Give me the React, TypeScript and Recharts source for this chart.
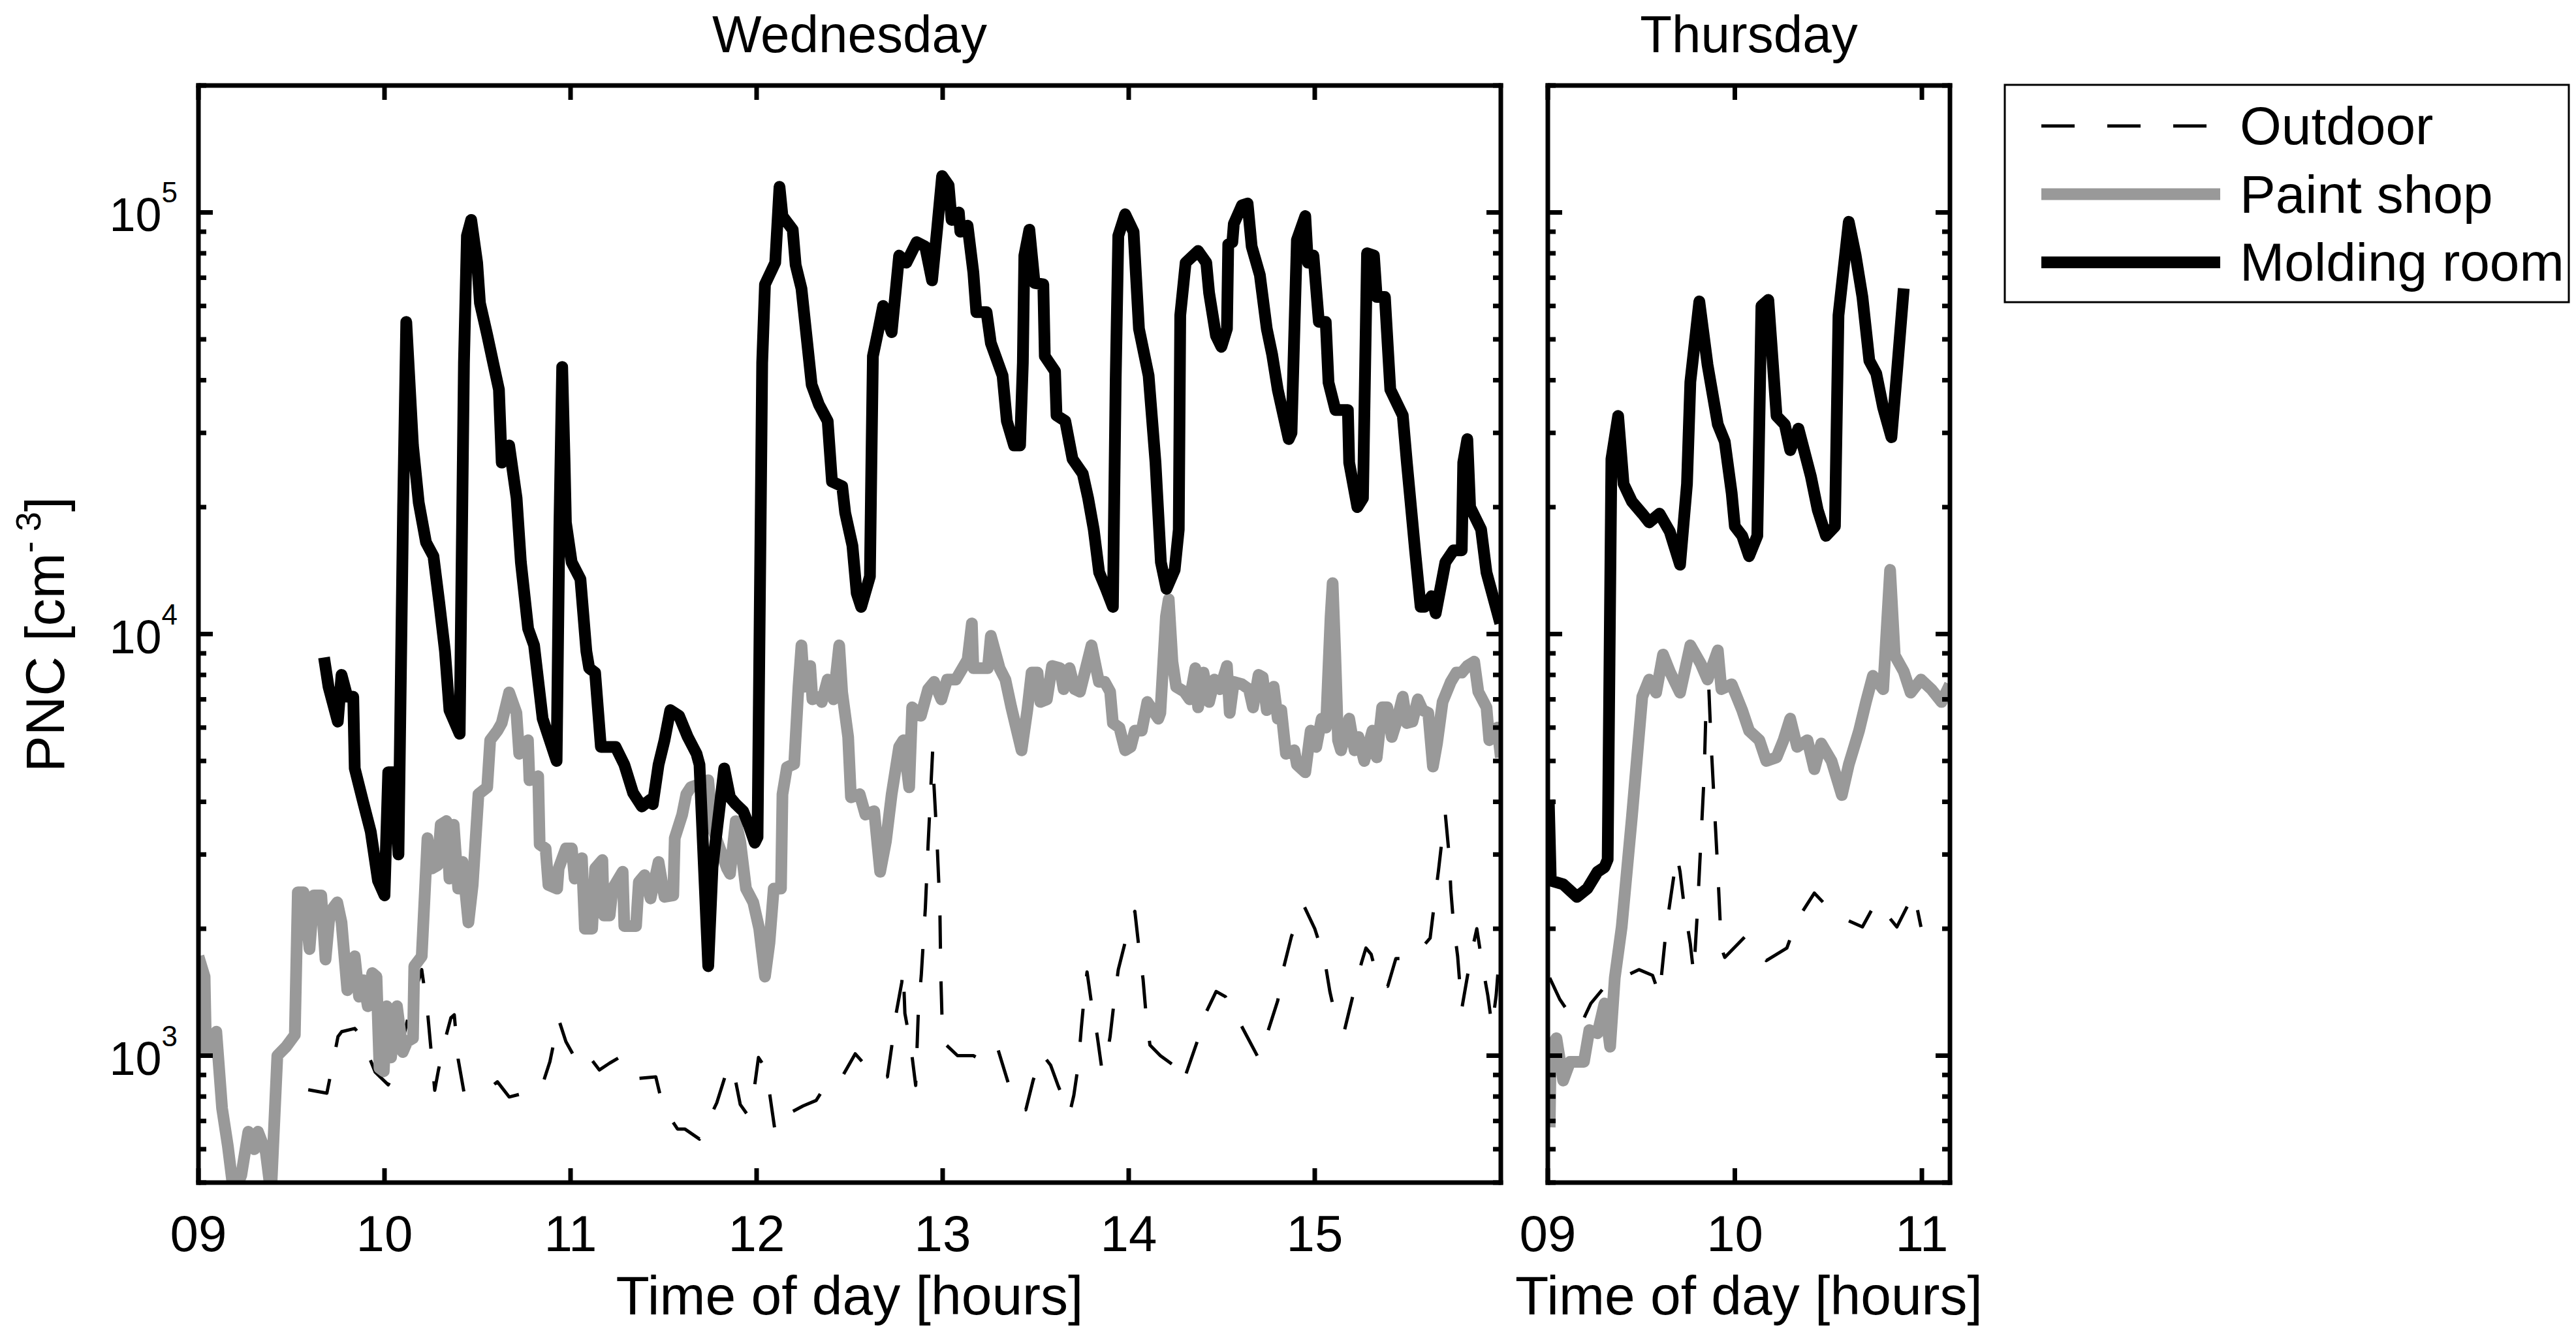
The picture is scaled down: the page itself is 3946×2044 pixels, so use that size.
import React from 'react';
import { LineChart, Line, XAxis, YAxis } from 'recharts';

type Pt = [number, number]; // [hour of day, PNC in cm^-3]

// ---------- Wednesday ----------
const wedOutdoor: Pt[] = [
  [9.59, 830], [9.69, 815], [9.71, 900], [9.75, 1110], [9.77, 1140], [9.84, 1160], [9.87, 1120],
  [9.95, 914], [10.02, 853], [10.06, 920], [10.13, 1250], [10.2, 1600], [10.23, 1290], [10.245, 1090],
  [10.27, 828], [10.29, 925], [10.33, 1110], [10.357, 1230], [10.375, 1250], [10.396, 980], [10.427, 820],
  [10.5, 830], [10.56, 835], [10.607, 867], [10.67, 798], [10.75, 815], [10.842, 835], [10.889, 968],
  [10.936, 1220], [10.975, 1080], [11.046, 948], [11.1, 995], [11.155, 925], [11.21, 960], [11.27, 995],
  [11.36, 883], [11.458, 891], [11.497, 755], [11.575, 670], [11.614, 670], [11.693, 634], [11.74, 700],
  [11.786, 773], [11.834, 903], [11.86, 950], [11.88, 903], [11.912, 766], [11.95, 725], [11.99, 852],
  [12.01, 990], [12.03, 960], [12.07, 813], [12.1, 658], [12.186, 734], [12.25, 760], [12.32, 783],
  [12.366, 843], [12.444, 867], [12.53, 1010], [12.6, 933], [12.64, 883], [12.703, 891], [12.726, 1050],
  [12.75, 1260], [12.78, 1490], [12.788, 1600], [12.797, 1260], [12.828, 1060], [12.855, 850], [12.87, 1300],
  [12.885, 1550], [12.907, 2240], [12.922, 3180], [12.946, 5270], [12.953, 4400], [12.97, 3200],
  [12.985, 2240], [12.99, 1560], [13.0, 1080], [13.08, 1000], [13.165, 1000], [13.2, 980], [13.29, 1060],
  [13.353, 860], [13.447, 744], [13.486, 873], [13.533, 1010], [13.58, 950], [13.619, 852], [13.682, 728],
  [13.705, 805], [13.729, 951], [13.745, 1160], [13.76, 1370], [13.776, 1580], [13.8, 1330], [13.83, 1120],
  [13.855, 933], [13.871, 934], [13.9, 1110], [13.922, 1350], [13.944, 1600], [13.989, 1920], [14.033, 2200],
  [14.055, 1800], [14.077, 1520], [14.092, 1270], [14.114, 1060], [14.17, 1000], [14.232, 955], [14.277, 860],
  [14.306, 900], [14.365, 1070], [14.417, 1270], [14.47, 1420], [14.52, 1380], [14.6, 1190], [14.698, 986],
  [14.742, 1120], [14.801, 1350], [14.83, 1600], [14.875, 1920], [14.941, 2270], [15.0, 2000], [15.052, 1700],
  [15.081, 1420], [15.118, 1200], [15.16, 1150], [15.207, 1400], [15.251, 1660], [15.275, 1800], [15.303, 1740],
  [15.347, 1470], [15.392, 1460], [15.436, 1700], [15.524, 1700], [15.62, 1900], [15.643, 2300], [15.665, 2750],
  [15.687, 3340], [15.702, 3730], [15.724, 2930], [15.731, 2480], [15.746, 2050], [15.768, 1720], [15.79, 1290],
  [15.842, 1750], [15.871, 2000], [15.901, 1640], [15.93, 1390], [15.953, 1170], [15.975, 1390], [15.99, 1690],
];

const wedPaint: Pt[] = [
  [9.0, 1720], [9.033, 1540], [9.041, 1020], [9.096, 1140], [9.127, 750], [9.158, 610], [9.19, 470],
  [9.23, 520], [9.268, 660], [9.3, 600], [9.32, 660], [9.362, 590], [9.39, 470], [9.424, 1000], [9.471, 1050],
  [9.518, 1120], [9.534, 2440], [9.565, 2440], [9.597, 1790], [9.62, 2400], [9.66, 2400], [9.683, 1690],
  [9.706, 2190], [9.746, 2310], [9.769, 2070], [9.8, 1430], [9.84, 1720], [9.863, 1380], [9.887, 1510],
  [9.91, 1310], [9.934, 1570], [9.957, 1540], [9.973, 935], [9.996, 918], [10.012, 1310], [10.035, 990],
  [10.067, 1310], [10.098, 1020], [10.122, 1080], [10.153, 1100], [10.16, 1630], [10.2, 1720], [10.231, 3280],
  [10.255, 2780], [10.286, 2830], [10.302, 3530], [10.333, 3600], [10.349, 2630], [10.372, 3530], [10.396, 2490],
  [10.419, 2880], [10.451, 2070], [10.474, 2540], [10.505, 4170], [10.552, 4330], [10.568, 5600], [10.607, 5900],
  [10.63, 6150], [10.67, 7270], [10.709, 6500], [10.724, 5200], [10.771, 5600], [10.779, 4500], [10.826, 4600],
  [10.834, 3170], [10.866, 3100], [10.881, 2540], [10.928, 2490], [10.936, 2780], [10.975, 3100], [11.007, 3100],
  [11.022, 2630], [11.061, 2940], [11.077, 2000], [11.116, 2000], [11.132, 2780], [11.171, 2910], [11.179, 2150],
  [11.21, 2150], [11.226, 2490], [11.28, 2730], [11.289, 2030], [11.352, 2030], [11.367, 2580], [11.398, 2680],
  [11.43, 2360], [11.473, 2880], [11.505, 2380], [11.552, 2400], [11.56, 3280], [11.6, 3730], [11.622, 4170],
  [11.646, 4330], [11.692, 4400], [11.74, 4500], [11.763, 3470], [11.841, 2780], [11.857, 2700], [11.888, 3600],
  [11.912, 3220], [11.943, 2490], [11.982, 2310], [12.014, 2000], [12.045, 1540], [12.069, 1850], [12.092, 2490],
  [12.131, 2490], [12.139, 4170], [12.163, 4830], [12.202, 4920], [12.225, 7500], [12.241, 9400], [12.256, 7500],
  [12.288, 8400], [12.3, 7000], [12.342, 7100], [12.35, 6900], [12.382, 7800], [12.413, 7000], [12.444, 9400],
  [12.46, 7270], [12.492, 5700], [12.507, 4100], [12.554, 4170], [12.585, 3730], [12.632, 3800], [12.664, 2730],
  [12.695, 3220], [12.726, 4170], [12.766, 5400], [12.789, 5600], [12.82, 4330], [12.836, 6700], [12.883, 6400],
  [12.922, 7400], [12.954, 7700], [12.993, 7000], [13.024, 7800], [13.071, 7800], [13.134, 8700], [13.157, 10600],
  [13.165, 8300], [13.243, 8300], [13.259, 9900], [13.306, 8300], [13.337, 7800], [13.369, 6700], [13.424, 5300],
  [13.455, 6600], [13.478, 8100], [13.51, 8100], [13.525, 6900], [13.56, 7000], [13.588, 8400], [13.63, 8300],
  [13.65, 7400], [13.682, 8300], [13.71, 7400], [13.738, 7300], [13.8, 9400], [13.84, 7700], [13.871, 7700],
  [13.9, 7300], [13.915, 6150], [13.95, 6000], [13.981, 5300], [14.011, 5400], [14.033, 5900], [14.07, 5900],
  [14.1, 6900], [14.159, 6300], [14.17, 6500], [14.2, 11000], [14.215, 12100], [14.235, 8600], [14.255, 7500],
  [14.299, 7300], [14.328, 7000], [14.358, 8300], [14.373, 6700], [14.402, 8100], [14.432, 6900], [14.461, 7800],
  [14.49, 7400], [14.528, 8400], [14.543, 6500], [14.565, 7700], [14.609, 7600], [14.646, 7400], [14.668, 6700],
  [14.698, 8000], [14.72, 7900], [14.742, 6600], [14.779, 7500], [14.801, 6300], [14.82, 6600], [14.845, 5200],
  [14.89, 5300], [14.904, 4900], [14.949, 4700], [14.978, 5900], [15.008, 5400], [15.037, 6300], [15.06, 6000],
  [15.085, 11000], [15.096, 13200], [15.11, 9000], [15.125, 5600], [15.141, 5300], [15.185, 6300], [15.214, 5300],
  [15.235, 5700], [15.266, 5000], [15.31, 5900], [15.333, 5100], [15.362, 6700], [15.39, 6700], [15.414, 5700],
  [15.44, 6200], [15.473, 7100], [15.495, 6150], [15.525, 6200], [15.554, 7000], [15.58, 6600], [15.61, 6500],
  [15.635, 4850], [15.657, 5500], [15.687, 6900], [15.731, 7700], [15.761, 8100], [15.79, 8100], [15.82, 8400],
  [15.857, 8600], [15.879, 7300], [15.923, 6700], [15.938, 5600], [15.982, 6000], [16.0, 5100],
];

const wedMolding: Pt[] = [
  [9.675, 8800], [9.699, 7500], [9.749, 6200], [9.769, 8000], [9.8, 7100], [9.832, 7100], [9.84, 4800],
  [9.885, 4000], [9.926, 3400], [9.965, 2600], [10.0, 2400], [10.02, 4700], [10.05, 4700], [10.075, 3000],
  [10.1, 20000], [10.117, 55000], [10.153, 28000], [10.184, 20500], [10.223, 16500], [10.263, 15300],
  [10.294, 11900], [10.325, 9100], [10.349, 6600], [10.404, 5800], [10.427, 44000], [10.443, 88000],
  [10.466, 96000], [10.498, 76000], [10.513, 61000], [10.553, 51000], [10.584, 44000], [10.615, 38000],
  [10.63, 25500], [10.67, 28000], [10.71, 21000], [10.733, 14800], [10.772, 10300], [10.804, 9400],
  [10.85, 6300], [10.925, 5000], [10.94, 18000], [10.955, 43000], [10.968, 25500], [10.975, 18400],
  [11.006, 14800], [11.053, 13500], [11.085, 9100], [11.1, 8300], [11.132, 8100], [11.163, 5400],
  [11.242, 5400], [11.289, 4900], [11.336, 4200], [11.383, 3900], [11.43, 4050], [11.442, 3950],
  [11.473, 4900], [11.505, 5600], [11.536, 6600], [11.583, 6400], [11.63, 5700], [11.677, 5200],
  [11.693, 4900], [11.74, 1630], [11.763, 2800], [11.826, 4800], [11.857, 4100], [11.888, 3950],
  [11.928, 3800], [11.96, 3500], [11.99, 3200], [12.005, 3300], [12.03, 44000], [12.045, 67500],
  [12.1, 76000], [12.123, 115000], [12.139, 98000], [12.194, 91000], [12.21, 75000], [12.241, 66000],
  [12.296, 39000], [12.335, 35000], [12.382, 32000], [12.405, 23000], [12.46, 22400], [12.476, 19400],
  [12.515, 16200], [12.538, 12500], [12.562, 11600], [12.609, 13700], [12.617, 25500], [12.625, 45600],
  [12.656, 53000], [12.68, 60000], [12.726, 52000], [12.766, 79000], [12.805, 76000], [12.86, 85000],
  [12.906, 83000], [12.943, 69000], [12.97, 91000], [12.997, 122000], [13.032, 116000], [13.048, 96000],
  [13.087, 100000], [13.095, 90000], [13.134, 93000], [13.165, 72000], [13.181, 58000], [13.236, 58000],
  [13.259, 49000], [13.322, 41000], [13.345, 32000], [13.384, 28000], [13.416, 28000], [13.431, 44000],
  [13.439, 79000], [13.466, 91000], [13.494, 68000], [13.541, 67500], [13.549, 45600], [13.604, 42000],
  [13.612, 33000], [13.659, 32000], [13.698, 26000], [13.753, 24000], [13.782, 21000], [13.812, 17700],
  [13.841, 14000], [13.878, 12800], [13.915, 11600], [13.93, 40000], [13.944, 88000], [13.981, 99000],
  [14.026, 90000], [14.055, 53000], [14.107, 41000], [14.144, 25500], [14.173, 14800], [14.203, 12800],
  [14.247, 14200], [14.269, 17700], [14.277, 57000], [14.306, 76000], [14.373, 81000], [14.417, 76000],
  [14.432, 64500], [14.469, 51000], [14.498, 48000], [14.528, 53000], [14.535, 84000], [14.557, 85000],
  [14.565, 94000], [14.609, 104000], [14.639, 105000], [14.661, 83000], [14.705, 71000], [14.742, 53000],
  [14.771, 46000], [14.801, 38000], [14.86, 29000], [14.875, 30000], [14.904, 86000], [14.949, 98000],
  [14.963, 76000], [14.993, 79000], [15.022, 55000], [15.059, 55000], [15.074, 39500], [15.111, 34000],
  [15.178, 34000], [15.185, 25500], [15.229, 20000], [15.259, 21000], [15.281, 80000], [15.318, 79000],
  [15.333, 63000], [15.377, 63000], [15.406, 38000], [15.473, 33000], [15.495, 25500], [15.539, 15800],
  [15.569, 11600], [15.59, 11600], [15.628, 12300], [15.65, 11200], [15.702, 14800], [15.746, 15800],
  [15.79, 15800], [15.798, 25500], [15.82, 29000], [15.835, 20000], [15.894, 17700], [15.923, 14000],
  [15.997, 10600],
];

// ---------- Thursday ----------
const thuOutdoor: Pt[] = [
  [9.01, 1530], [9.064, 1360], [9.12, 1250], [9.175, 1180], [9.23, 1330], [9.3, 1450], [9.34, 1490],
  [9.487, 1600], [9.56, 1550], [9.597, 1390], [9.634, 2020], [9.69, 2990], [9.707, 2730], [9.726, 2320],
  [9.762, 1840], [9.78, 1560], [9.8, 2210], [9.818, 3200], [9.836, 4650], [9.846, 6760], [9.861, 7400],
  [9.873, 5500], [9.891, 3870], [9.91, 2670], [9.928, 1800], [9.946, 1710], [10.057, 1920], [10.168, 1680],
  [10.278, 1800], [10.333, 2100], [10.425, 2430], [10.535, 2160], [10.682, 2020], [10.756, 2320],
  [10.866, 2020], [10.958, 2430], [10.995, 2020],
];

const thuPaint: Pt[] = [
  [9.01, 676], [9.016, 1050], [9.046, 1100], [9.082, 873], [9.119, 967], [9.193, 967], [9.222, 1150],
  [9.266, 1130], [9.303, 1330], [9.333, 1050], [9.358, 1530], [9.395, 2020], [9.45, 3700], [9.505, 7100],
  [9.542, 7800], [9.579, 7260], [9.616, 8940], [9.652, 8150], [9.707, 7260], [9.762, 9400], [9.818, 8500],
  [9.854, 7800], [9.909, 9150], [9.928, 7400], [9.983, 7600], [10.039, 6600], [10.076, 5900], [10.131, 5600],
  [10.168, 5000], [10.223, 5100], [10.26, 5600], [10.296, 6300], [10.333, 5400], [10.388, 5600],
  [10.425, 4780], [10.462, 5500], [10.517, 5000], [10.572, 4150], [10.609, 4900], [10.664, 5900],
  [10.701, 6900], [10.738, 7960], [10.793, 7400], [10.83, 14200], [10.855, 8900], [10.903, 8150],
  [10.94, 7260], [10.995, 7800], [11.05, 7400], [11.105, 6900], [11.15, 7600],
];

const thuMolding: Pt[] = [
  [9.005, 4050], [9.016, 2600], [9.082, 2550], [9.156, 2380], [9.211, 2490], [9.266, 2730], [9.303, 2800],
  [9.32, 2920], [9.34, 26000], [9.376, 32900], [9.405, 22700], [9.45, 20600], [9.505, 19300], [9.542, 18400],
  [9.597, 19300], [9.652, 17500], [9.707, 14600], [9.744, 22700], [9.762, 39600], [9.81, 61500],
  [9.854, 43500], [9.909, 31400], [9.946, 28600], [9.983, 21600], [10.0, 18000], [10.039, 17100],
  [10.076, 15300], [10.12, 17100], [10.142, 60000], [10.179, 62000], [10.223, 32900], [10.267, 31400],
  [10.296, 27300], [10.34, 30700], [10.37, 27300], [10.406, 23700], [10.443, 19700], [10.487, 17100],
  [10.535, 18000], [10.554, 57000], [10.609, 95000], [10.646, 79000], [10.682, 63000], [10.719, 44500],
  [10.756, 41500], [10.793, 34400], [10.837, 29300], [10.866, 41500], [10.903, 66000],
];

// ---------- axes ----------
const wedHourTicks = [9, 10, 11, 12, 13, 14, 15];
const thuHourTicks = [9, 10, 11];
const decadeTicks = [1000, 10000, 100000];
const pncTicks = [
  500, 600, 700, 800, 900,
  1000, 2000, 3000, 4000, 5000, 6000, 7000, 8000, 9000,
  10000, 20000, 30000, 40000, 50000, 60000, 70000, 80000, 90000,
  100000, 200000,
];
const pncDomain: [number, number] = [500, 200000];

const series = [
  { name: 'Outdoor', color: '#000000', width: 5, dash: '51 50' },
  { name: 'Paint shop', color: '#999999', width: 18, dash: undefined },
  { name: 'Molding room', color: '#000000', width: 18, dash: undefined },
];

const FONT = '"Liberation Sans", Arial, Helvetica, sans-serif';
const PLOT_TOP = 131;
const PLOT_BOTTOM = 1812;
const frameLine = { stroke: '#000', strokeWidth: 7, strokeLinecap: 'square' as const };

const toRows = (pts: Pt[]) => pts.map(([t, v]) => ({ t, v }));
const fmtHour = (h: number) => String(h).padStart(2, '0');

const HourTick = (props: any) => {
  const { x, y, payload, side } = props;
  const d = side === 'top' ? 1 : -1;
  return (
    <g>
      <line x1={x} y1={y} x2={x} y2={y + d * 22} stroke="#000" strokeWidth={7} />
      {side === 'bottom' && (
        <text x={x} y={y + 105} textAnchor="middle" fontSize={78} fontFamily={FONT} fill="#000">
          {fmtHour(payload.value)}
        </text>
      )}
    </g>
  );
};

const PncTick = (props: any) => {
  const { x, y, payload, side, labels } = props;
  const major = decadeTicks.includes(payload.value);
  const d = side === 'left' ? 1 : -1;
  return (
    <g>
      <line x1={x} y1={y} x2={x + d * (major ? 22 : 12)} y2={y} stroke="#000" strokeWidth={7} />
      {labels && major && (
        <text x={x - 32} y={y + 29} textAnchor="end" fontSize={72} fontFamily={FONT} fill="#000">
          10
          <tspan dy={-44} fontSize={44}>
            {Math.round(Math.log10(payload.value))}
          </tspan>
        </text>
      )}
    </g>
  );
};

interface PanelProps {
  left: number;
  width: number;
  plotLeft: number;
  plotRight: number;
  xDomain: [number, number];
  xTicks: number[];
  sets: Pt[][];
  yLabels: boolean;
}

const Panel = ({ left, width, plotLeft, plotRight, xDomain, xTicks, sets, yLabels }: PanelProps) => (
  <div style={{ position: 'absolute', left, top: 0 }}>
    <LineChart
      width={width}
      height={2044}
      margin={{
        top: PLOT_TOP - 1,
        bottom: 2044 - PLOT_BOTTOM - 1,
        left: plotLeft - left - 1,
        right: width - (plotRight - left) - 1,
      }}
    >
      <XAxis
        xAxisId={0}
        dataKey="t"
        type="number"
        domain={xDomain}
        allowDataOverflow
        ticks={xTicks}
        interval={0}
        height={1}
        tickSize={0}
        tickMargin={0}
        tickLine={false}
        axisLine={frameLine}
        tick={(p: any) => <HourTick {...p} side="bottom" />}
      />
      <XAxis
        xAxisId="top"
        orientation="top"
        dataKey="t"
        type="number"
        domain={xDomain}
        allowDataOverflow
        ticks={xTicks}
        interval={0}
        height={1}
        tickSize={0}
        tickMargin={0}
        tickLine={false}
        axisLine={frameLine}
        tick={(p: any) => <HourTick {...p} side="top" />}
      />
      <YAxis
        yAxisId={0}
        orientation="left"
        type="number"
        scale="log"
        domain={pncDomain}
        allowDataOverflow
        ticks={pncTicks}
        interval={0}
        width={1}
        tickSize={0}
        tickMargin={0}
        tickLine={false}
        axisLine={frameLine}
        tick={(p: any) => <PncTick {...p} side="left" labels={yLabels} />}
      />
      <YAxis
        yAxisId="right"
        orientation="right"
        type="number"
        scale="log"
        domain={pncDomain}
        allowDataOverflow
        ticks={pncTicks}
        interval={0}
        width={1}
        tickSize={0}
        tickMargin={0}
        tickLine={false}
        axisLine={frameLine}
        tick={(p: any) => <PncTick {...p} side="right" labels={false} />}
      />
      {series.map((s, i) => (
        <Line
          key={s.name}
          xAxisId={0}
          yAxisId={0}
          data={toRows(sets[i])}
          dataKey="v"
          name={s.name}
          type="linear"
          stroke={s.color}
          strokeWidth={s.width}
          strokeDasharray={s.dash}
          strokeLinejoin="round"
          dot={false}
          activeDot={false}
          isAnimationActive={false}
        />
      ))}
    </LineChart>
  </div>
);

export default function App() {
  const wedCenter = (304 + 2299) / 2;
  const thuCenter = (2371 + 2987) / 2;
  return (
    <div style={{ position: 'absolute', left: 0, top: 0, width: 3946, height: 2044, background: '#fff' }}>
      <Panel
        left={0}
        width={2340}
        plotLeft={304}
        plotRight={2299}
        xDomain={[9, 16]}
        xTicks={wedHourTicks}
        sets={[wedOutdoor, wedPaint, wedMolding]}
        yLabels
      />
      <Panel
        left={2300}
        width={720}
        plotLeft={2371}
        plotRight={2987}
        xDomain={[9, 11.15]}
        xTicks={thuHourTicks}
        sets={[thuOutdoor, thuPaint, thuMolding]}
        yLabels={false}
      />
      <svg
        width={3946}
        height={2044}
        style={{ position: 'absolute', left: 0, top: 0, pointerEvents: 'none' }}
        fontFamily={FONT}
      >
        <text x={wedCenter} y={80} textAnchor="middle" fontSize={80}>Wednesday</text>
        <text x={thuCenter} y={80} textAnchor="middle" fontSize={80}>Thursday</text>
        <text x={wedCenter} y={2014} textAnchor="middle" fontSize={84}>Time of day [hours]</text>
        <text x={thuCenter} y={2014} textAnchor="middle" fontSize={84}>Time of day [hours]</text>
        <text transform="translate(98,972) rotate(-90)" textAnchor="middle" fontSize={84}>
          PNC [cm<tspan dy={-36} fontSize={54}>- 3</tspan>
          <tspan dy={36}>]</tspan>
        </text>

        {/* legend */}
        <rect x={3071} y={130} width={864} height={333} fill="#fff" stroke="#000" strokeWidth={3} />
        {series.map((s, i) => {
          const cy = 193 + i * 104.5;
          return (
            <g key={s.name}>
              <line
                x1={3127}
                x2={3401}
                y1={cy}
                y2={cy}
                stroke={s.color}
                strokeWidth={s.width}
                strokeDasharray={s.dash}
              />
              <text x={3431} y={cy + 28} fontSize={82}>{s.name}</text>
            </g>
          );
        })}
      </svg>
    </div>
  );
}
